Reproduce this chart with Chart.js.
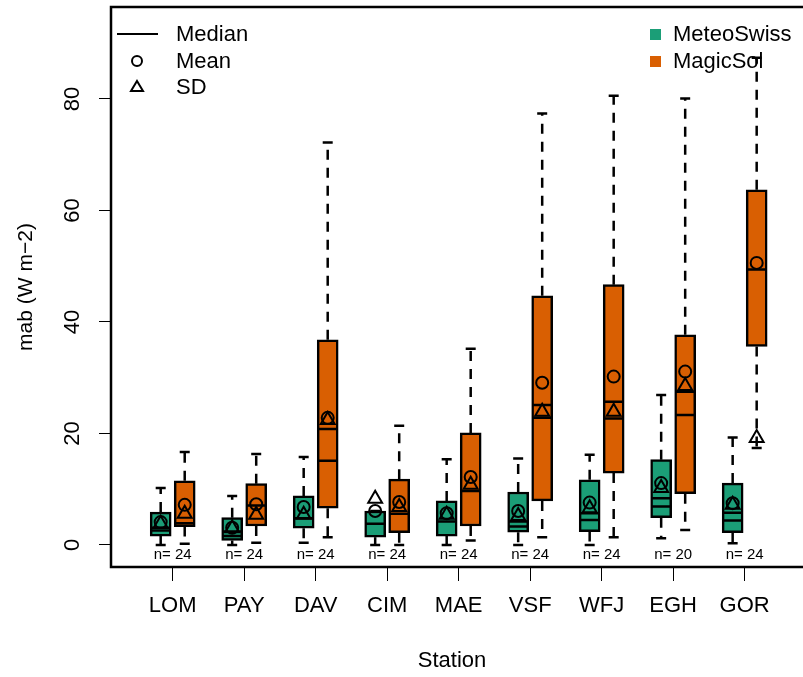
<!DOCTYPE html>
<html>
<head>
<meta charset="utf-8">
<script src="https://cdn.jsdelivr.net/npm/chart.js"></script>
<style>
  html, body { margin: 0; padding: 0; background: #fff; }
  #wrap { width: 803px; height: 677px; overflow: hidden; }
</style>
</head>
<body>
<div id="wrap"><canvas id="chart" width="803" height="677"></canvas></div>
<script>
  // stations and sample sizes
  const stations = ['LOM', 'PAY', 'DAV', 'CIM', 'MAE', 'VSF', 'WFJ', 'EGH', 'GOR'];
  const sampleSizes = [24, 24, 24, 24, 24, 24, 24, 20, 24];
  const yTickValues = [0, 20, 40, 60, 80];

  // MeteoSwiss (green) box statistics
  const msMin    = [0.0, 0.0, 0.4, 0.0, 0.0, 0.0, 0.0, 1.2, 0.3];
  const msQ1     = [1.6, 0.8, 3.0, 1.4, 1.6, 2.3, 2.4, 4.9, 2.2];
  const msMedian = [2.6, 1.6, 4.8, 3.8, 4.2, 3.3, 4.5, 6.9, 4.4];
  const msLine2  = [3.1, 2.4, 4.8, 3.8, 4.2, 4.2, 5.7, 8.4, 5.8];
  const msQ3     = [5.9, 4.9, 8.8, 6.1, 7.9, 9.5, 11.7, 15.3, 11.1];
  const msMax    = [10.2, 8.8, 15.8, 6.1, 15.4, 15.5, 16.2, 26.9, 19.3];
  const msMean   = [4.1, 3.1, 6.8, 6.1, 5.7, 6.1, 7.6, 11.1, 7.5];
  const msSD     = [3.8, 3.0, 5.4, 8.3, 5.4, 5.2, 6.6, 10.2, 7.2];

  // MagicSol (orange) box statistics
  const magMin    = [0.2, 0.4, 1.4, 0.0, 0.8, 1.4, 1.4, 2.7, 17.4];
  const magQ1     = [3.3, 3.4, 6.6, 2.2, 3.4, 7.9, 12.9, 9.2, 35.6];
  const magMedian = [3.9, 7.1, 15.1, 5.6, 9.7, 22.8, 22.7, 23.3, 49.4];
  const magLine2  = [3.9, 7.1, 20.8, 5.6, 9.7, 25.1, 25.7, 27.5, 49.4];
  const magQ3     = [11.5, 11.0, 36.8, 11.8, 20.1, 44.7, 46.7, 37.7, 63.7];
  const magMax    = [16.7, 16.3, 72.2, 21.4, 35.2, 77.4, 80.6, 80.1, 87.4];
  const magMean   = [7.2, 7.3, 22.8, 7.7, 12.2, 29.1, 30.2, 31.1, 50.6];
  const magSD     = [5.6, 5.4, 22.4, 6.8, 10.8, 23.9, 23.9, 28.5, 19.2];

  const GREEN = '#1B9E77';
  const ORANGE = '#D95F02';
  const SHIFT = 0.168;
  const FONT = '"Liberation Sans", Arial, Helvetica, sans-serif';
  const PLOT_TOP = 7;

  const series = [
    { name: 'MeteoSwiss', color: GREEN, dx: -SHIFT, min: msMin, q1: msQ1, med: msMedian, line2: msLine2, q3: msQ3, max: msMax },
    { name: 'MagicSol', color: ORANGE, dx: SHIFT, min: magMin, q1: magQ1, med: magMedian, line2: magLine2, q3: magQ3, max: magMax }
  ];

  const boxDatasets = series.map(s => ({
    type: 'bar',
    label: s.name,
    data: stations.map((st, i) => ({ x: i + 1 + s.dx, y: [s.q1[i], s.q3[i]] })),
    backgroundColor: s.color,
    borderColor: '#000',
    borderWidth: 2.5,
    borderSkipped: false,
    barThickness: 21,
    grouped: false,
    order: 2
  }));

  const pointSet = (a, b) => stations.map((st, i) => ({ x: i + 1 - SHIFT, y: a[i] }))
    .concat(stations.map((st, i) => ({ x: i + 1 + SHIFT, y: b[i] })));

  const meanDataset = {
    type: 'scatter', label: 'Mean', data: pointSet(msMean, magMean),
    pointStyle: 'circle', pointRadius: 6, pointBorderWidth: 2,
    pointBackgroundColor: 'rgba(0,0,0,0)', pointBorderColor: '#000', order: 0
  };
  const sdDataset = {
    type: 'scatter', label: 'SD', data: pointSet(msSD, magSD),
    pointStyle: 'triangle', pointRadius: 8, pointBorderWidth: 2,
    pointBackgroundColor: 'rgba(0,0,0,0)', pointBorderColor: '#000', order: 1
  };

  const boxExtras = {
    id: 'boxExtras',
    afterLayout(chart) {
      // pin the plot region top so the value axis lines up
      const y = chart.scales.y;
      chart.chartArea.top = PLOT_TOP;
      y.top = PLOT_TOP;
      y.height = y.bottom - y.top;
      y.configure();
    },
    beforeDatasetsDraw(chart) {
      const { ctx, scales: { x, y } } = chart;
      ctx.save();
      ctx.strokeStyle = '#000';
      ctx.lineWidth = 2.5;
      series.forEach(s => {
        stations.forEach((st, i) => {
          const px = x.getPixelForValue(i + 1 + s.dx);
          ctx.setLineDash([10, 8]);
          ctx.beginPath();
          ctx.moveTo(px, y.getPixelForValue(s.q3[i]));
          ctx.lineTo(px, y.getPixelForValue(s.max[i]));
          ctx.moveTo(px, y.getPixelForValue(s.q1[i]));
          ctx.lineTo(px, y.getPixelForValue(s.min[i]));
          ctx.stroke();
          ctx.setLineDash([]);
          ctx.beginPath();
          [s.max[i], s.min[i]].forEach(v => {
            const py = y.getPixelForValue(v);
            ctx.moveTo(px - 5, py);
            ctx.lineTo(px + 5, py);
          });
          ctx.stroke();
        });
      });
      ctx.restore();
    },
    afterDatasetsDraw(chart) {
      const { ctx, scales: { x, y } } = chart;
      ctx.save();
      ctx.strokeStyle = '#000';
      ctx.lineWidth = 2.5;
      series.forEach(s => {
        stations.forEach((st, i) => {
          const px = x.getPixelForValue(i + 1 + s.dx);
          ctx.beginPath();
          [s.med[i], s.line2[i]].forEach(v => {
            const py = y.getPixelForValue(v);
            ctx.moveTo(px - 10, py);
            ctx.lineTo(px + 10, py);
          });
          ctx.stroke();
        });
      });
      ctx.restore();
    },
    afterDraw(chart) {
      const { ctx, chartArea: a, scales: { x, y } } = chart;
      ctx.save();
      // frame (left, top, bottom) - right side runs off the page
      ctx.strokeStyle = '#000';
      ctx.lineWidth = 2.5;
      ctx.beginPath();
      ctx.moveTo(810, a.top);
      ctx.lineTo(a.left, a.top);
      ctx.lineTo(a.left, a.bottom);
      ctx.lineTo(810, a.bottom);
      ctx.stroke();

      // y tick labels, rotated like R
      ctx.fillStyle = '#000';
      ctx.font = '22px ' + FONT;
      ctx.textAlign = 'center';
      ctx.textBaseline = 'middle';
      yTickValues.forEach(v => {
        ctx.save();
        ctx.translate(73, y.getPixelForValue(v));
        ctx.rotate(-Math.PI / 2);
        ctx.fillText(String(v), 0, 0);
        ctx.restore();
      });

      // sample sizes
      ctx.font = '15px ' + FONT;
      stations.forEach((st, i) => {
        ctx.fillText('n= ' + sampleSizes[i], x.getPixelForValue(i + 1), a.bottom - 12);
      });

      // legend: statistics
      ctx.font = '22px ' + FONT;
      ctx.textAlign = 'left';
      ctx.lineWidth = 2;
      ctx.beginPath();
      ctx.moveTo(117, 34);
      ctx.lineTo(158, 34);
      ctx.stroke();
      ctx.fillText('Median', 176, 35);
      ctx.beginPath();
      ctx.arc(137, 61, 5, 0, Math.PI * 2);
      ctx.stroke();
      ctx.fillText('Mean', 176, 62);
      ctx.beginPath();
      ctx.moveTo(137, 81);
      ctx.lineTo(143, 91);
      ctx.lineTo(131, 91);
      ctx.closePath();
      ctx.stroke();
      ctx.fillText('SD', 176, 88);

      // legend: sources
      series.forEach((s, k) => {
        const ly = 34 + k * 27;
        ctx.fillStyle = s.color;
        ctx.fillRect(650, ly - 5, 11, 11);
        ctx.fillStyle = '#000';
        ctx.fillText(s.name, 673, ly + 1);
      });
      ctx.restore();
    }
  };

  new Chart(document.getElementById('chart'), {
    type: 'bar',
    data: { datasets: [...boxDatasets, meanDataset, sdDataset] },
    options: {
      responsive: false,
      animation: false,
      devicePixelRatio: 1,
      layout: { padding: { top: 4, right: 0, left: 0, bottom: 0 } },
      plugins: { legend: { display: false }, tooltip: { enabled: false } },
      scales: {
        x: {
          type: 'linear', min: 0.137, max: 9.676, offset: false,
          afterFit: s => { s.height = 110; },
          afterBuildTicks: s => { s.ticks = stations.map((st, i) => ({ value: i + 1 })); },
          grid: { drawOnChartArea: false, offset: false, tickLength: 14, color: '#000', lineWidth: 1 },
          border: { display: false },
          ticks: {
            color: '#000', padding: 12, maxRotation: 0, autoSkip: false,
            font: { family: FONT, size: 22 },
            callback: v => stations[v - 1] || ''
          },
          title: { display: true, text: 'Station', color: '#000', font: { family: FONT, size: 22 }, padding: { top: 0, bottom: 3 } }
        },
        y: {
          type: 'linear', min: -3.95, max: 96.5,
          afterFit: s => { s.width = 111; },
          afterBuildTicks: s => { s.ticks = yTickValues.map(v => ({ value: v })); },
          grid: { drawOnChartArea: false, tickLength: 12, color: '#000', lineWidth: 1 },
          border: { display: false },
          ticks: { display: false },
          title: { display: true, text: 'mab (W m\u22122)', color: '#000', font: { family: FONT, size: 21 }, padding: { top: 14, bottom: 0 } }
        }
      }
    },
    plugins: [boxExtras]
  });
</script>
</body>
</html>
